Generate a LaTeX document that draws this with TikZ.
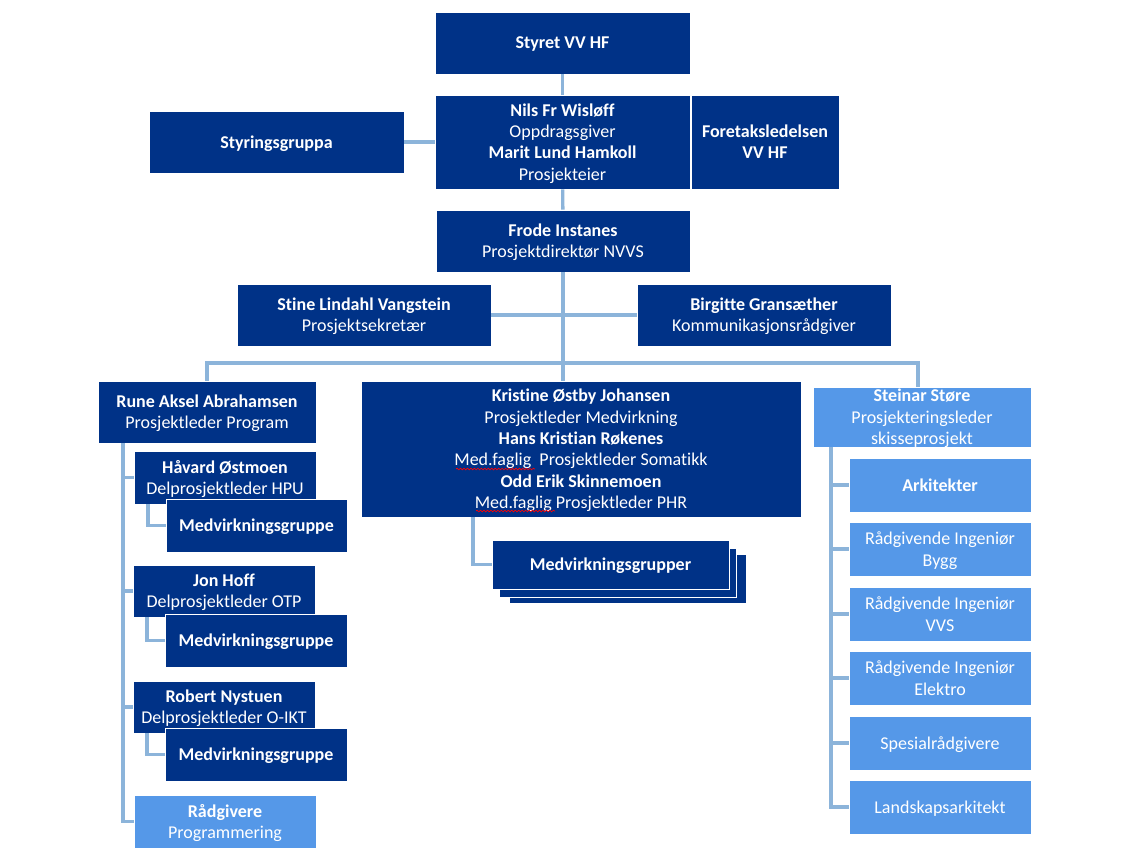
\documentclass[tikz,border=0pt]{standalone}
\usepackage{fontspec}
\setmainfont{Carlito}[RawFeature={-liga}]
\usetikzlibrary{positioning,decorations.pathmorphing}
\definecolor{morkblaa}{RGB}{0,50,135}
\definecolor{lysblaa}{RGB}{85,152,232}
\definecolor{linje}{RGB}{140,180,218}

\begin{document}
\begin{tikzpicture}[x=0.75pt, y=-0.75pt,
    every node/.style={text=white, align=center, inner sep=0, text depth=0pt, font=\fontsize{13.5}{16}\selectfont},
    boks/.style 2 args={minimum width=#1*0.75pt, minimum height=#2*0.75pt},
    mork/.style={fill=morkblaa, draw=white, line width=0.6pt},
    lys/.style={fill=lysblaa, draw=white, line width=0.6pt},
    link/.style={draw=linje, line width=2.5pt},
    krussel/.style={draw=red, line width=0.5pt, decorate, decoration={snake, amplitude=0.6pt, segment length=2.6pt}}
    ]
    \fill[white] (0,0) rectangle (1124,857);
    \useasboundingbox (0,0) rectangle (1124,857);

    % toppen
    \node [mork, boks={255}{62}] (styret) at (562.5,43) {\textbf{Styret VV HF}};
    \node [mork, boks={255}{94}] (eier) at (562.5,142)
      {\textbf{Nils Fr Wisløff}\\Oppdragsgiver\\\textbf{Marit Lund Hamkoll}\\Prosjekteier};
    \node [mork, boks={148}{94}] (foretak) at (765,142) {\textbf{Foretaksledelsen}\\\textbf{VV HF}};
    \node [mork, boks={255}{62}] (styring) at (276.5,142) {\textbf{Styringsgruppa}};
    \node [mork, boks={254}{62}] (direktor) at (563,241) {\textbf{Frode Instanes}\\Prosjektdirektør NVVS};
    \node [mork, boks={254}{62}] (sekretar) at (364,315) {\textbf{Stine Lindahl Vangstein}\\Prosjektsekretær};
    \node [mork, boks={254}{62}] (kommunikasjon) at (764,315) {\textbf{Birgitte Gransæther}\\Kommunikasjonsrådgiver};

    % program
    \node [mork, boks={218}{62}] (program) at (207,412) {\textbf{Rune Aksel Abrahamsen}\\Prosjektleder Program};
    \node [mork, boks={182}{53}] (hpu) at (225,477.5) {\textbf{Håvard Østmoen}\\Delprosjektleder HPU};
    \node [mork, boks={181}{53}] (mg1) at (256.5,525.5) {\textbf{Medvirkningsgruppe}};
    \node [mork, boks={182}{52}] (otp) at (224,591) {\textbf{Jon Hoff}\\Delprosjektleder OTP};
    \node [mork, boks={182}{53}] (mg2) at (256,640.5) {\textbf{Medvirkningsgruppe}};
    \node [mork, boks={182}{52}] (oikt) at (224,707) {\textbf{Robert Nystuen}\\Delprosjektleder O-IKT};
    \node [mork, boks={182}{53}] (mg3) at (256,754.5) {\textbf{Medvirkningsgruppe}};
    \node [lys, boks={182}{53}] (radgivere) at (225,821.5) {\textbf{Rådgivere}\\Programmering};

    % medvirkning
    \node [mork, boks={440}{136}] (medvirkning) at (581,449)
      {\textbf{Kristine Østby Johansen}\\Prosjektleder Medvirkning\\\textbf{Hans Kristian Røkenes}\\
       Med.faglig\ \ Prosjektleder Somatikk\\\textbf{Odd Erik Skinnemoen}\\Med.faglig Prosjektleder PHR};
    \node [mork, boks={237}{49}] (stack3) at (627.5,578.5) {};
    \node [mork, boks={237}{49}] (stack2) at (617.5,572.5) {};
    \node [mork, boks={237}{49}] (grupper) at (610.5,564.5) {\textbf{Medvirkningsgrupper}};

    % prosjektering
    \node [lys, boks={218}{60}] (skisse) at (922,417) {\textbf{Steinar Støre}\\Prosjekteringsleder\\skisseprosjekt};
    \node [lys, boks={182}{54}] (ark) at (940,485) {\textbf{Arkitekter}};
    \node [lys, boks={182}{54}] (bygg) at (940,549) {Rådgivende Ingeniør\\Bygg};
    \node [lys, boks={182}{54}] (vvs) at (940,614) {Rådgivende Ingeniør\\VVS};
    \node [lys, boks={182}{54}] (elektro) at (940,678) {Rådgivende Ingeniør\\Elektro};
    \node [lys, boks={182}{54}] (spesial) at (940,743) {Spesialrådgivere};
    \node [lys, boks={182}{54}] (landskap) at (940,807) {Landskapsarkitekt};

    \coordinate (buss) at (562.5,363);
    \coordinate (steinartopp) at (918,387);
    \coordinate (venstre) at (123,443);
    \coordinate (hoyre) at (831,447);

    % linjer
    \draw [link] (styret) -- (eier);
    \draw [link] (styring) -- (eier);
    \draw [link] (eier) -- (direktor);
    \draw [link] (direktor.south) -- (direktor.south |- medvirkning.north);
    \draw [link] (sekretar) -- (kommunikasjon);
    \draw [link] (program.north) |- (buss) -| (steinartopp);

    \draw [link] (venstre) |- (radgivere.west);
    \foreach \n in {hpu, otp, oikt}
      \draw [link] (venstre |- \n.west) -- (\n.west);
    \draw [link] (hpu.south -| 148,0) |- (mg1.west);
    \draw [link] (otp.south -| 147,0) |- (mg2.west);
    \draw [link] (oikt.south -| 147,0) |- (mg3.west);

    \draw [link] (medvirkning.south -| 473,0) |- (grupper.west);

    \draw [link] (hoyre) |- (landskap.west);
    \foreach \n in {ark, bygg, vvs, elektro, spesial}
      \draw [link] (hoyre |- \n.west) -- (\n.west);

    \draw [krussel] (456,469) -- (535,469);
    \draw [krussel] (476,511) -- (555,511);
\end{tikzpicture}
\end{document}
